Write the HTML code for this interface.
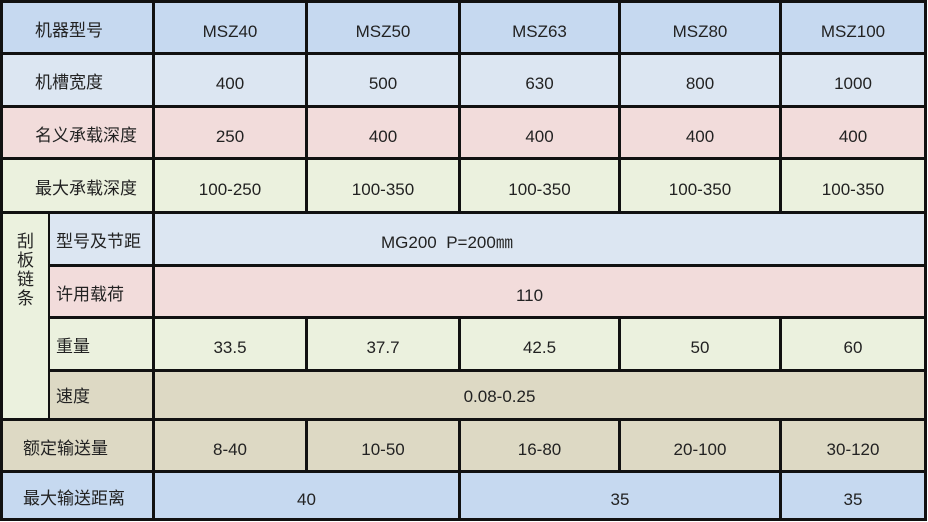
<!DOCTYPE html>
<html><head><meta charset="utf-8"><style>
body{margin:0;background:#fff;width:928px;height:522px;overflow:hidden;position:relative;font-family:"Liberation Sans","Noto Sans CJK SC",sans-serif;font-size:17px;color:#222}
#t{position:absolute;left:0;top:0;width:927px;height:521px;background:#111}
.c{position:absolute;display:flex;align-items:center;justify-content:center;padding-top:8px;box-sizing:border-box;line-height:20px}
.l,.s,.m{font-family:"Noto Sans CJK SC",sans-serif;font-size:17px;padding-top:2px}
.l{justify-content:flex-start;padding-left:32px}
.s{justify-content:flex-start;padding-left:6px}
.m{justify-content:flex-start;padding-left:20px}
.b1{background:#c6d9f0}.b2{background:#dce6f2}.p{background:#f2dcdb}.g{background:#ebf1de}.t{background:#ddd9c4}
</style></head><body><div id="t">
<div class="c b1 l" style="left:3px;top:3px;width:149px;height:49px">机器型号</div>
<div class="c b1" style="left:155px;top:3px;width:150px;height:49px">MSZ40</div>
<div class="c b1" style="left:308px;top:3px;width:150px;height:49px">MSZ50</div>
<div class="c b1" style="left:461px;top:3px;width:157px;height:49px">MSZ63</div>
<div class="c b1" style="left:621px;top:3px;width:158px;height:49px">MSZ80</div>
<div class="c b1" style="left:782px;top:3px;width:142px;height:49px">MSZ100</div>

<div class="c b2 l" style="left:3px;top:55px;width:149px;height:50px">机槽宽度</div>
<div class="c b2" style="left:155px;top:55px;width:150px;height:50px">400</div>
<div class="c b2" style="left:308px;top:55px;width:150px;height:50px">500</div>
<div class="c b2" style="left:461px;top:55px;width:157px;height:50px">630</div>
<div class="c b2" style="left:621px;top:55px;width:158px;height:50px">800</div>
<div class="c b2" style="left:782px;top:55px;width:142px;height:50px">1000</div>

<div class="c p l" style="left:3px;top:108px;width:149px;height:49px">名义承载深度</div>
<div class="c p" style="left:155px;top:108px;width:150px;height:49px">250</div>
<div class="c p" style="left:308px;top:108px;width:150px;height:49px">400</div>
<div class="c p" style="left:461px;top:108px;width:157px;height:49px">400</div>
<div class="c p" style="left:621px;top:108px;width:158px;height:49px">400</div>
<div class="c p" style="left:782px;top:108px;width:142px;height:49px">400</div>

<div class="c g l" style="left:3px;top:160px;width:149px;height:51px">最大承载深度</div>
<div class="c g" style="left:155px;top:160px;width:150px;height:51px">100-250</div>
<div class="c g" style="left:308px;top:160px;width:150px;height:51px">100-350</div>
<div class="c g" style="left:461px;top:160px;width:157px;height:51px">100-350</div>
<div class="c g" style="left:621px;top:160px;width:158px;height:51px">100-350</div>
<div class="c g" style="left:782px;top:160px;width:142px;height:51px">100-350</div>

<div class="c g" style="left:3px;top:214px;width:45px;height:204px;align-items:flex-start;padding-top:16px;line-height:19px;text-align:center;font-size:17px;font-family:'Noto Sans CJK SC',sans-serif"><div>刮<br>板<br>链<br>条</div></div>

<div class="c b2 s" style="left:50px;top:214px;width:102px;height:50px">型号及节距</div>
<div class="c b2" style="left:155px;top:214px;width:769px;height:50px;justify-content:flex-start;padding-left:226px">MG200&nbsp;&nbsp;P=200㎜</div>

<div class="c p s" style="left:50px;top:267px;width:102px;height:49px">许用载荷</div>
<div class="c p" style="left:155px;top:267px;width:769px;height:49px"><span style="margin-left:-20px">110</span></div>

<div class="c g s" style="left:50px;top:319px;width:102px;height:50px">重量</div>
<div class="c g" style="left:155px;top:319px;width:150px;height:50px">33.5</div>
<div class="c g" style="left:308px;top:319px;width:150px;height:50px">37.7</div>
<div class="c g" style="left:461px;top:319px;width:157px;height:50px">42.5</div>
<div class="c g" style="left:621px;top:319px;width:158px;height:50px">50</div>
<div class="c g" style="left:782px;top:319px;width:142px;height:50px">60</div>

<div class="c t s" style="left:50px;top:372px;width:102px;height:46px;padding-top:0">速度</div>
<div class="c t" style="left:155px;top:372px;width:769px;height:46px;padding-top:3px"><span style="margin-left:-80px">0.08-0.25</span></div>

<div class="c t m" style="left:3px;top:421px;width:149px;height:49px">额定输送量</div>
<div class="c t" style="left:155px;top:421px;width:150px;height:49px">8-40</div>
<div class="c t" style="left:308px;top:421px;width:150px;height:49px">10-50</div>
<div class="c t" style="left:461px;top:421px;width:157px;height:49px">16-80</div>
<div class="c t" style="left:621px;top:421px;width:158px;height:49px">20-100</div>
<div class="c t" style="left:782px;top:421px;width:142px;height:49px">30-120</div>

<div class="c b1 m" style="left:3px;top:473px;width:149px;height:45px">最大输送距离</div>
<div class="c b1" style="left:155px;top:473px;width:303px;height:45px">40</div>
<div class="c b1" style="left:461px;top:473px;width:318px;height:45px">35</div>
<div class="c b1" style="left:782px;top:473px;width:142px;height:45px">35</div>
</div></body></html>
